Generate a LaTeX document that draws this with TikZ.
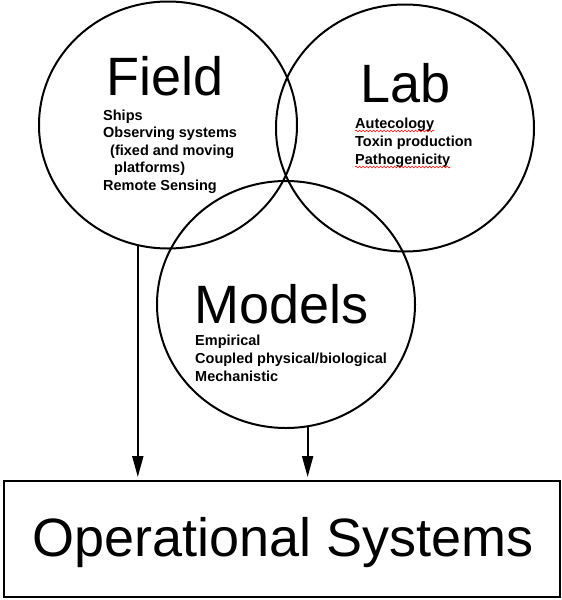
\documentclass[tikz,border=0pt]{standalone}
\usepackage{fontspec}
\setmainfont{Liberation Sans}
\usetikzlibrary{shapes.geometric,arrows.meta,decorations.pathmorphing}
\begin{document}
\begin{tikzpicture}[x=1pt,y=-1pt,
  venn/.style={draw, line width=2pt, ellipse, minimum width=258pt, minimum height=247pt, inner sep=0pt},
  title/.style={font=\fontsize{54}{54}\selectfont, anchor=base west, inner sep=0pt},
  item/.style={font=\fontsize{14.5}{17}\selectfont\bfseries, anchor=base west, inner sep=0pt},
  opsbox/.style={draw, line width=2pt, minimum width=556pt, minimum height=116pt, inner sep=0pt},
  arr/.style={line width=2pt, -{Triangle[length=21pt,width=11pt]}, shorten >=3pt},
  squig/.style={red, line width=0.6pt, decorate, decoration={snake, segment length=3.5pt, amplitude=0.9pt}}]
\useasboundingbox (0,0) rectangle (562,600);

% circles
\node[venn] (field) at (168,125) {};
\node[venn] (lab) at (405,128) {};
\node[venn] (models) at (286,304.5) {};

% operational systems box
\node[opsbox] (ops) at (282,539) {};
\node[font=\fontsize{54}{54}\selectfont, anchor=base, inner sep=0pt] (opstext) at (283,556) {Operational Systems};

% titles
\node[title] (fieldtitle) at (106,95) {Field};
\node[title] (labtitle) at (360,102) {Lab};
\node[title] (modelstitle) at (194,323) {Models};

% field list
\node[item] (f1) at (103,120) {Ships};
\node[item] (f2) at (103,137.5) {Observing systems};
\node[item] (f3) at (103,155) {\hspace*{7pt}(fixed and moving};
\node[item] (f4) at (103,172.5) {\hspace*{11pt}platforms)};
\node[item] (f5) at (103,190) {Remote Sensing};

% lab list
\node[item] (l1) at (355,128) {Autecology};
\node[item] (l2) at (355,146) {Toxin production};
\node[item] (l3) at (355,164) {Pathogenicity};
\draw[squig] ([yshift=-3pt]l1.base west) -- ([yshift=-3pt]l1.base east);
\draw[squig] ([yshift=-3pt]l3.base west) -- ([yshift=-3pt]l3.base east);

% models list
\node[item] (m1) at (195,345) {Empirical};
\node[item] (m2) at (195,363) {Coupled physical/biological};
\node[item] (m3) at (195,381) {Mechanistic};

% arrows
\draw[arr] (field.-104) -- (field.-104 |- ops.north);
\draw[arr] (models.-80) -- (models.-80 |- ops.north);
\end{tikzpicture}
\end{document}
